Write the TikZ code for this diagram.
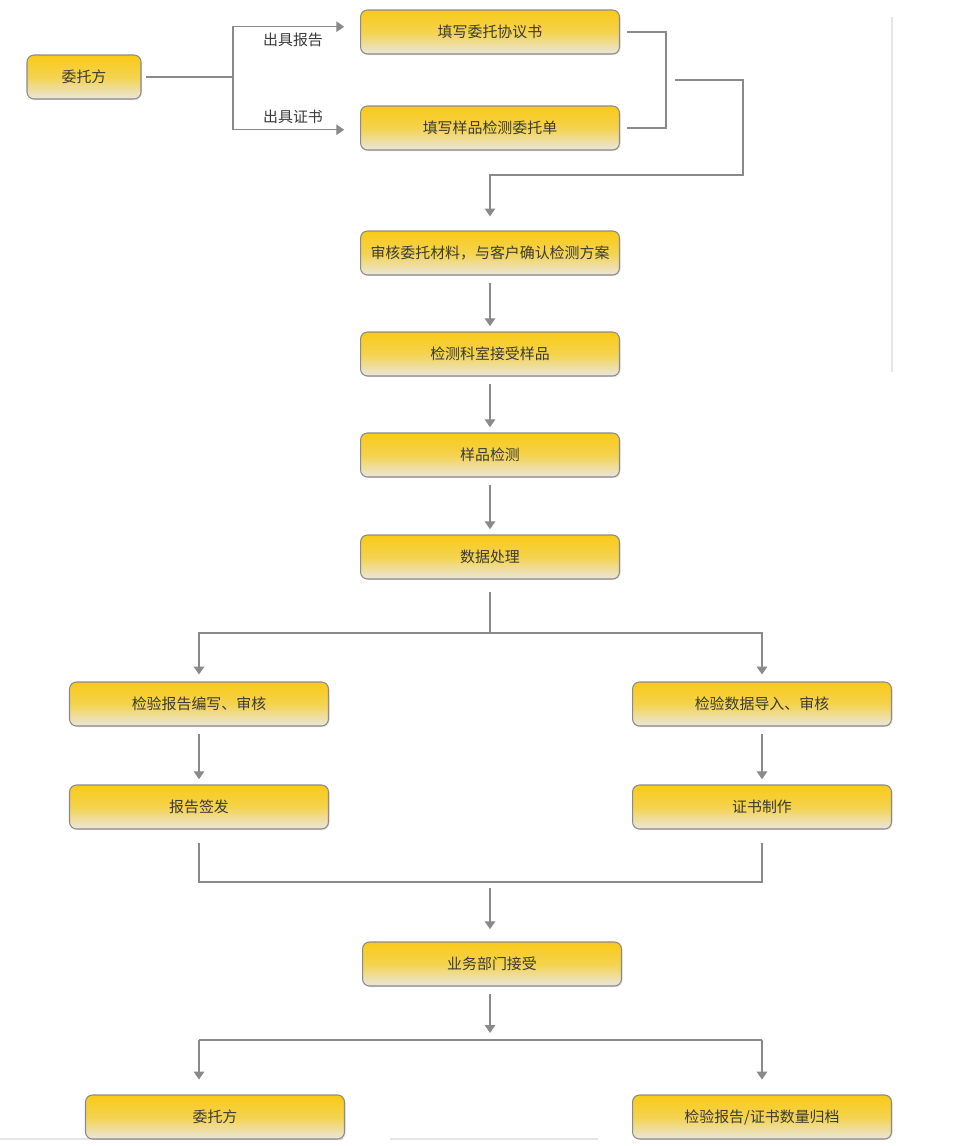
\documentclass[tikz,border=0pt]{standalone}
\usepackage{fontspec}
\setmainfont{Noto Sans CJK SC}
\usetikzlibrary{arrows.meta,shadows}
\definecolor{boxtop}{RGB}{250,202,24}
\definecolor{boxmid}{RGB}{244,211,78}
\definecolor{boxbot}{RGB}{233,230,222}
\definecolor{linegray}{RGB}{138,138,138}
\definecolor{textgray}{RGB}{58,58,58}

\begin{document}
\begin{tikzpicture}[x=0.02cm,y=-0.02cm,
    stepbox/.style={draw=linegray, line width=0.6pt, rounded corners=4pt,
      top color=boxtop, bottom color=boxbot, middle color=boxmid,
      minimum width=5.18cm, minimum height=0.88cm, inner xsep=2pt,
      text=textgray, font=\fontsize{8.5}{10}\selectfont,
      drop shadow={opacity=0.2, shadow xshift=0.6pt, shadow yshift=-0.7pt}},
    conn/.style={draw=linegray, line width=0.7pt},
    arr/.style={conn, -{Triangle[width=6pt,length=4.5pt]}},
    flow/.style={arr, shorten <=4.5pt, shorten >=3pt},
    lbl/.style={text=textgray, font=\fontsize{8.5}{10}\selectfont}]
    \useasboundingbox (0,0) rectangle (962,1146);
    % faint page lines
    \draw[gray!20, line width=0.6pt] (892,17) -- (892,372);
    \draw[gray!20, line width=0.6pt] (0,1139) -- (343,1139);
    \draw[gray!20, line width=0.6pt] (390,1139) -- (598,1139);

    % boxes
    \node[stepbox, minimum width=2.28cm] (client) at (84,77) {委托方};
    \node[stepbox] (agree) at (490,32) {填写委托协议书};
    \node[stepbox] (form) at (490,128) {填写样品检测委托单};
    \node[stepbox] (review) at (490,253) {审核委托材料，与客户确认检测方案};
    \node[stepbox] (receive) at (490,354) {检测科室接受样品};
    \node[stepbox] (test) at (490,455) {样品检测};
    \node[stepbox] (data) at (490,557) {数据处理};
    \node[stepbox] (write) at (199,704) {检验报告编写、审核};
    \node[stepbox] (import) at (762,704) {检验数据导入、审核};
    \node[stepbox] (issue) at (199,807) {报告签发};
    \node[stepbox] (cert) at (762,807) {证书制作};
    \node[stepbox] (dept) at (492,964) {业务部门接受};
    \node[stepbox] (back) at (215,1117) {委托方};
    \node[stepbox] (archive) at (762,1117) {检验报告/证书数量归档};

    % client splits into two forms
    \coordinate (fork) at (233,77);
    \draw[conn] ([xshift=2.5pt]client.east) -- (fork);
    \draw[arr] (fork) |- ([xshift=-9pt,yshift=3pt]agree.west)
      node[lbl, pos=0.77, below] {出具报告};
    \draw[arr] (fork) |- ([xshift=-9pt,yshift=-1pt]form.west)
      node[lbl, pos=0.77, above] {出具证书};

    % two forms merge
    \coordinate (merge) at (666,80);
    \draw[conn] ([xshift=4pt]agree.east) -| (merge) |- ([xshift=4pt]form.east);
    \draw[arr] ([xshift=5pt]merge) -| (743,175) -| ([yshift=8pt]review.north);

    % main column
    \foreach \a/\b in {review/receive, receive/test, test/data, write/issue, import/cert}
      \draw[flow] (\a) -- (\b);

    % data splits
    \coordinate (split) at (490,633);
    \draw[conn, shorten <=7pt] (data) -- (split);
    \draw[arr] (split) -| ([yshift=4pt]write.north);
    \draw[arr] (split) -| ([yshift=4pt]import.north);

    % results join
    \coordinate (join) at (490,882);
    \draw[conn] ([yshift=-7.5pt]issue.south) |- (join) -| ([yshift=-7.5pt]cert.south);
    \draw[arr, shorten <=3.5pt] (join) -- ([yshift=7pt]dept.north -| join);

    % final split
    \coordinate (splitM) at (490,1040);
    \coordinate (splitL) at (199,1040);
    \coordinate (splitR) at (762,1040);
    \draw[arr, shorten <=4pt] (dept.south -| splitM) -- ([yshift=4pt]splitM);
    \draw[conn] (splitL) -- (splitR);
    \draw[arr] (splitL) -- ([yshift=8.5pt]splitL |- back.north);
    \draw[arr] (splitR) -- ([yshift=8.5pt]archive.north);
\end{tikzpicture}
\end{document}
